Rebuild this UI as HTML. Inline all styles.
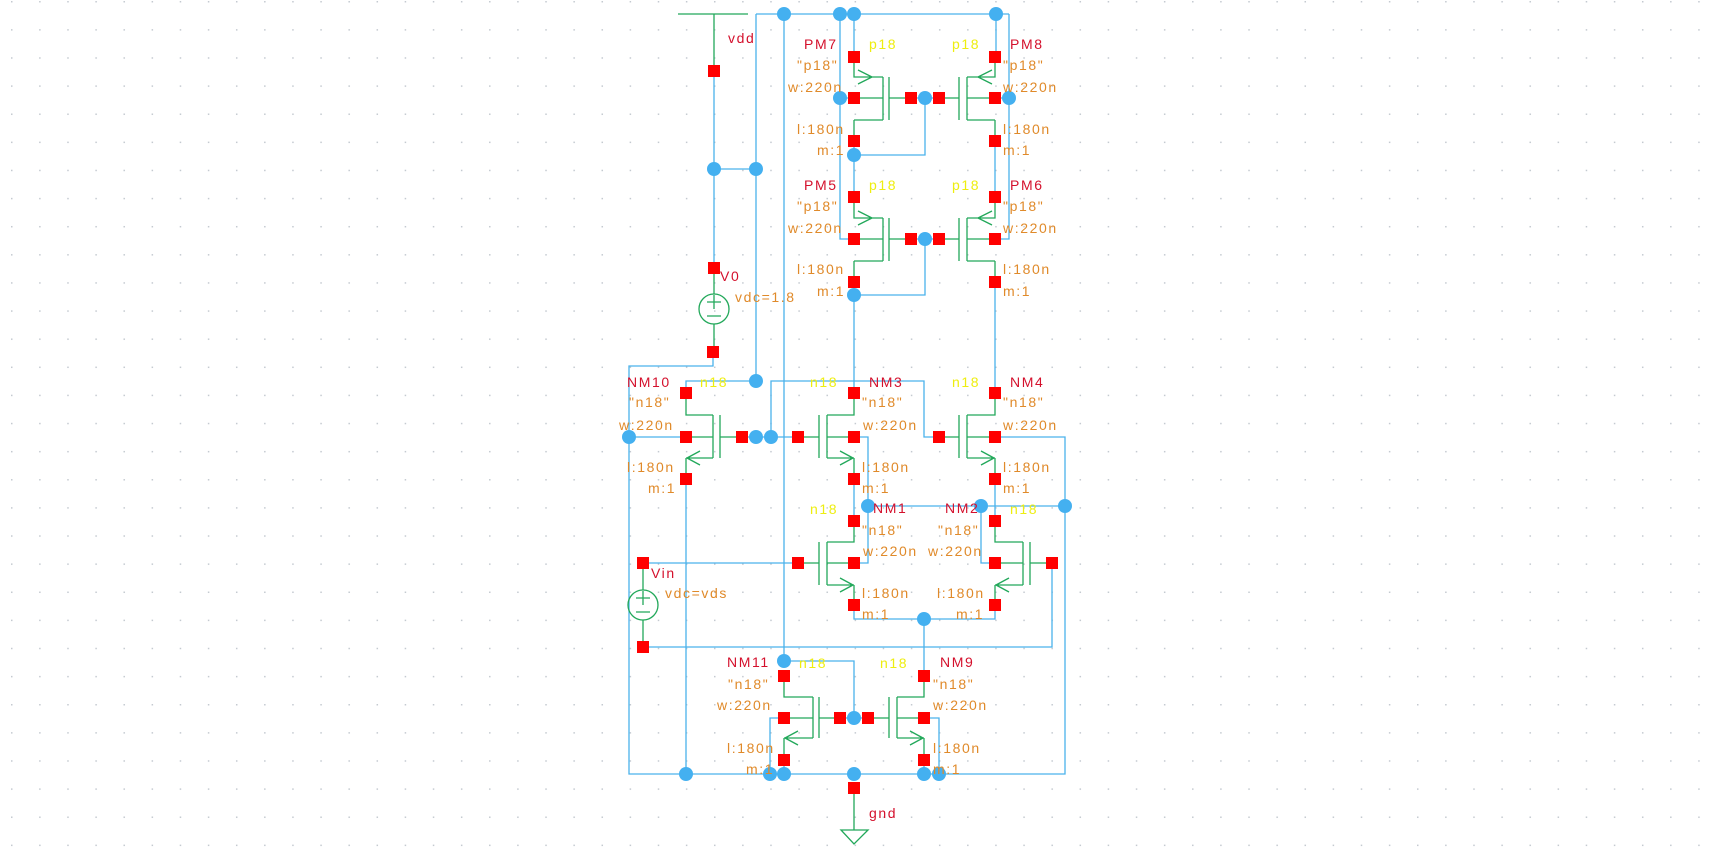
<!DOCTYPE html>
<html><head><meta charset="utf-8"><style>
html,body{margin:0;padding:0;background:#fff;}
svg{display:block;}
text{font-family:"Liberation Sans",sans-serif;font-size:14px;letter-spacing:1.6px;}
.r{fill:#d4102c}.o{fill:#e08a2a}.y{fill:#eeee10}
.b{stroke:#4ab2ec;stroke-width:1.3;fill:none}
.g{stroke:#22a85a;stroke-width:1.3;fill:none}
</style></head><body>
<svg width="1722" height="858" viewBox="0 0 1722 858" xmlns="http://www.w3.org/2000/svg">
<defs>
<pattern id="dots" x="11" y="1" width="28.12" height="28.12" patternUnits="userSpaceOnUse">
<rect x="0" y="0" width="1.5" height="1.5" fill="#c4cad0"/>
</pattern>
</defs>
<rect width="1722" height="858" fill="url(#dots)"/>

<g class="b">
<path d="M714 71V268M714 169H756M756 14V381M756 14H1009M784 14V661"/>
<path d="M840 14V239H854M1009 14V239H995M854 14V57"/>
<path d="M996 14V57"/>
<path d="M840 98H854M1009 98H995M911 98H939M925 98V155H854M854 141V197"/>
<path d="M995 141V197M911 239H939M925 239V295H854M854 282V393M995 282V393"/>
<path d="M713 352V366H629V774H1065V437H995"/>
<path d="M686 393V381H756M629 437H686M742 437H798M771 437V381H924V437H939"/>
<path d="M854 437H868V563H854M854 479V521M995 479V521M868 506H1065M981 506V563H995"/>
<path d="M643 563H798M643 647H1052V563M854 605V619H995V605M924 619V676"/>
<path d="M686 479V774M784 661H854V718M840 718H868M784 718H770V774M924 718H939V774M784 760V774M924 760V774"/>
</g>

<g class="g">
<path d="M678 14H748M714 14V71M714 268V294M714 324V352"/>
<circle cx="714" cy="309" r="15"/>
<path d="M707 302h14M714 295v14M707 316h14" />
<circle cx="643" cy="605" r="15"/>
<path d="M636 598h14M643 591v14M636 612h14M643 563V590M643 620V647"/>
<path d="M854 788V830M841 830H868L854 844Z"/>
<!-- PM7 -->
<path d="M854 57V77H883M883 77V120M854 120V141M883 120H854M854 98H883M889 77V120M889 98H911M872 77l-14-7M872 77l-14 7"/>
<!-- PM8 -->
<path d="M995 57V77H967M967 77V120M995 120V141M967 120H995M995 98H967M959 77V120M959 98H939M978 77l14-7M978 77l14 7"/>
<!-- PM5 -->
<path d="M854 197V218H883M883 218V261M854 261V282M883 261H854M854 239H883M889 218V261M889 239H911M872 218l-14-7M872 218l-14 7"/>
<!-- PM6 -->
<path d="M995 197V218H967M967 218V261M995 261V282M967 261H995M995 239H967M959 218V261M959 239H939M978 218l14-7M978 218l14 7"/>
<!-- NM10 -->
<path d="M686 393V415H713M713 415V458M686 458V479M713 458H686M686 437H713M720 415V458M720 437H742M687 458l13-7M687 458l13 7"/>
<!-- NM3 -->
<path d="M854 393V415H827M827 415V458M854 458V479M827 458H854M854 437H827M819 415V458M819 437H798M853 458l-13-7M853 458l-13 7"/>
<!-- NM4 -->
<path d="M995 393V415H967M967 415V458M995 458V479M967 458H995M995 437H967M959 415V458M959 437H939M994 458l-13-7M994 458l-13 7"/>
<!-- NM1 -->
<path d="M854 521V542H827M827 542V585M854 585V605M827 585H854M854 563H827M819 542V585M819 563H798M853 585l-13-7M853 585l-13 7"/>
<!-- NM2 -->
<path d="M995 521V542H1023M1023 542V585M995 585V605M1023 585H995M995 563H1023M1030 542V585M1030 563H1052M996 585l13-7M996 585l13 7"/>
<!-- NM11 -->
<path d="M784 676V697H813M813 697V738M784 738V760M813 738H784M784 718H813M819 697V738M819 718H840M785 738l13-7M785 738l13 7"/>
<!-- NM9 -->
<path d="M924 676V697H897M897 697V738M924 738V760M897 738H924M924 718H897M889 697V738M889 718H868M923 738l-13-7M923 738l-13 7"/>
</g>

<g fill="#f00">
<rect x="708" y="65" width="12" height="12"/><rect x="708" y="262" width="12" height="12"/><rect x="707" y="346" width="12" height="12"/>
<rect x="848" y="51" width="12" height="12"/><rect x="848" y="92" width="12" height="12"/><rect x="848" y="135" width="12" height="12"/><rect x="905" y="92" width="12" height="12"/>
<rect x="989" y="51" width="12" height="12"/><rect x="989" y="92" width="12" height="12"/><rect x="989" y="135" width="12" height="12"/><rect x="933" y="92" width="12" height="12"/>
<rect x="848" y="191" width="12" height="12"/><rect x="848" y="233" width="12" height="12"/><rect x="848" y="276" width="12" height="12"/><rect x="905" y="233" width="12" height="12"/>
<rect x="989" y="191" width="12" height="12"/><rect x="989" y="233" width="12" height="12"/><rect x="989" y="276" width="12" height="12"/><rect x="933" y="233" width="12" height="12"/>
<rect x="680" y="387" width="12" height="12"/><rect x="680" y="431" width="12" height="12"/><rect x="680" y="473" width="12" height="12"/><rect x="736" y="431" width="12" height="12"/>
<rect x="848" y="387" width="12" height="12"/><rect x="848" y="431" width="12" height="12"/><rect x="848" y="473" width="12" height="12"/><rect x="792" y="431" width="12" height="12"/>
<rect x="989" y="387" width="12" height="12"/><rect x="989" y="431" width="12" height="12"/><rect x="989" y="473" width="12" height="12"/><rect x="933" y="431" width="12" height="12"/>
<rect x="848" y="515" width="12" height="12"/><rect x="848" y="557" width="12" height="12"/><rect x="848" y="599" width="12" height="12"/><rect x="792" y="557" width="12" height="12"/>
<rect x="989" y="515" width="12" height="12"/><rect x="989" y="557" width="12" height="12"/><rect x="989" y="599" width="12" height="12"/><rect x="1046" y="557" width="12" height="12"/>
<rect x="637" y="557" width="12" height="12"/><rect x="637" y="641" width="12" height="12"/>
<rect x="778" y="670" width="12" height="12"/><rect x="778" y="712" width="12" height="12"/><rect x="778" y="754" width="12" height="12"/><rect x="834" y="712" width="12" height="12"/>
<rect x="918" y="670" width="12" height="12"/><rect x="918" y="712" width="12" height="12"/><rect x="918" y="754" width="12" height="12"/><rect x="862" y="712" width="12" height="12"/>
<rect x="848" y="782" width="12" height="12"/>
</g>

<g fill="#44b0f0">
<circle cx="784" cy="14" r="7"/><circle cx="840" cy="14" r="7"/><circle cx="854" cy="14" r="7"/><circle cx="996" cy="14" r="7"/>
<circle cx="714" cy="169" r="7"/><circle cx="756" cy="169" r="7"/>
<circle cx="840" cy="98" r="7"/><circle cx="925" cy="98" r="7"/><circle cx="1009" cy="98" r="7"/><circle cx="854" cy="155" r="7"/>
<circle cx="925" cy="239" r="7"/><circle cx="854" cy="295" r="7"/>
<circle cx="756" cy="381" r="7"/><circle cx="629" cy="437" r="7"/><circle cx="756" cy="437" r="7"/><circle cx="771" cy="437" r="7"/>
<circle cx="868" cy="506" r="7"/><circle cx="981" cy="506" r="7"/><circle cx="1065" cy="506" r="7"/><circle cx="924" cy="619" r="7"/>
<circle cx="784" cy="661" r="7"/><circle cx="854" cy="718" r="7"/>
<circle cx="686" cy="774" r="7"/><circle cx="770" cy="774" r="7"/><circle cx="784" cy="774" r="7"/><circle cx="854" cy="774" r="7"/><circle cx="924" cy="774" r="7"/><circle cx="939" cy="774" r="7"/>
</g>

<text class="r" x="728" y="43">vdd</text>
<text class="r" x="720" y="281">V0</text><text class="o" x="735" y="302">vdc=1.8</text>
<text class="r" x="651" y="578">Vin</text><text class="o" x="665" y="598">vdc=vds</text>
<text class="r" x="869" y="818">gnd</text>

<text class="r" x="804" y="49">PM7</text><text class="y" x="869" y="49">p18</text>
<text class="o" x="797" y="70">"p18"</text><text class="o" x="788" y="92">w:220n</text><text class="o" x="797" y="134">l:180n</text><text class="o" x="817" y="155">m:1</text>
<text class="r" x="1010" y="49">PM8</text><text class="y" x="952" y="49">p18</text>
<text class="o" x="1003" y="70">"p18"</text><text class="o" x="1003" y="92">w:220n</text><text class="o" x="1003" y="134">l:180n</text><text class="o" x="1003" y="155">m:1</text>

<text class="r" x="804" y="190">PM5</text><text class="y" x="869" y="190">p18</text>
<text class="o" x="797" y="211">"p18"</text><text class="o" x="788" y="233">w:220n</text><text class="o" x="797" y="274">l:180n</text><text class="o" x="817" y="296">m:1</text>
<text class="r" x="1010" y="190">PM6</text><text class="y" x="952" y="190">p18</text>
<text class="o" x="1003" y="211">"p18"</text><text class="o" x="1003" y="233">w:220n</text><text class="o" x="1003" y="274">l:180n</text><text class="o" x="1003" y="296">m:1</text>

<text class="r" x="627" y="387">NM10</text><text class="y" x="700" y="387">n18</text>
<text class="o" x="629" y="407">"n18"</text><text class="o" x="619" y="430">w:220n</text><text class="o" x="627" y="472">l:180n</text><text class="o" x="648" y="493">m:1</text>

<text class="y" x="810" y="387">n18</text><text class="r" x="869" y="387">NM3</text>
<text class="o" x="862" y="407">"n18"</text><text class="o" x="863" y="430">w:220n</text><text class="o" x="862" y="472">l:180n</text><text class="o" x="862" y="493">m:1</text>

<text class="y" x="952" y="387">n18</text><text class="r" x="1010" y="387">NM4</text>
<text class="o" x="1003" y="407">"n18"</text><text class="o" x="1003" y="430">w:220n</text><text class="o" x="1003" y="472">l:180n</text><text class="o" x="1003" y="493">m:1</text>

<text class="y" x="810" y="514">n18</text><text class="r" x="873" y="513">NM1</text>
<text class="o" x="862" y="535">"n18"</text><text class="o" x="863" y="556">w:220n</text><text class="o" x="862" y="598">l:180n</text><text class="o" x="862" y="619">m:1</text>

<text class="r" x="945" y="513">NM2</text><text class="y" x="1010" y="514">n18</text>
<text class="o" x="938" y="535">"n18"</text><text class="o" x="928" y="556">w:220n</text><text class="o" x="937" y="598">l:180n</text><text class="o" x="956" y="619">m:1</text>

<text class="r" x="727" y="667">NM11</text><text class="y" x="799" y="668">n18</text>
<text class="o" x="728" y="689">"n18"</text><text class="o" x="717" y="710">w:220n</text><text class="o" x="727" y="753">l:180n</text><text class="o" x="746" y="774">m:1</text>

<text class="y" x="880" y="668">n18</text><text class="r" x="940" y="667">NM9</text>
<text class="o" x="933" y="689">"n18"</text><text class="o" x="933" y="710">w:220n</text><text class="o" x="933" y="753">l:180n</text><text class="o" x="933" y="774">m:1</text>
</svg>
</body></html>
